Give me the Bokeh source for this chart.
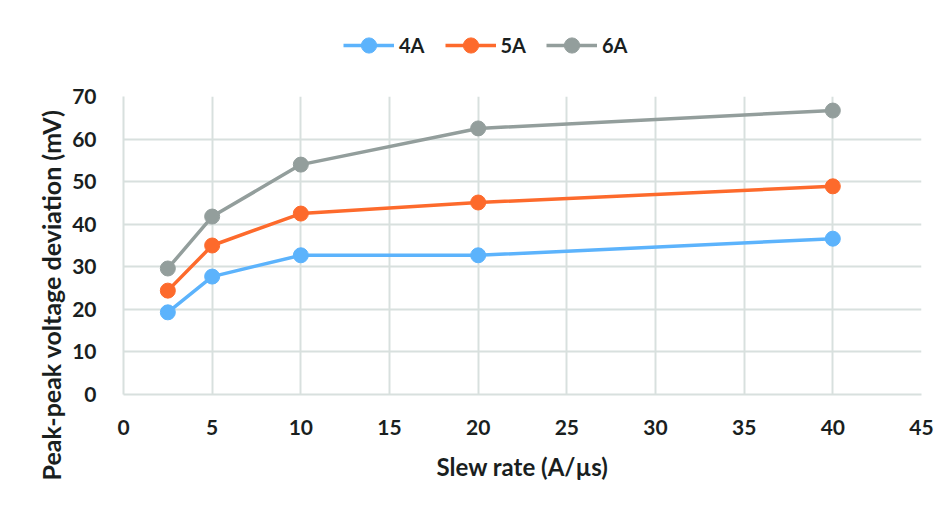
from bokeh.plotting import figure
from bokeh.models import Legend, LegendItem, FixedTicker, Title
from bokeh.layouts import column
from bokeh.embed import file_html
from bokeh.resources import INLINE

slew_rate = [2.5, 5, 10, 20, 40]
dev_4A = [19.3, 27.7, 32.7, 32.7, 36.6]
dev_5A = [24.4, 35.0, 42.5, 45.1, 48.9]
dev_6A = [29.6, 41.8, 54.0, 62.5, 66.7]
series_names = ["4A", "5A", "6A"]
series_colors = ["#5cb3fc", "#fd6a2c", "#939e9c"]
x_ticks = [0, 5, 10, 15, 20, 25, 30, 35, 40, 45]
y_ticks = [0, 10, 20, 30, 40, 50, 60, 70]
x_title = "Slew rate (A/µs)"
y_title = "Peak-peak voltage deviation (mV)"

FONT = "Lato"
TXT = "#1a1f1f"
GRID = "#d8e0de"
W = 944
LEG_H = 70

# legend strip (its frame is aligned with the main chart's frame by the column)
lg = figure(width=W, height=LEG_H, output_backend="svg", toolbar_location=None,
            x_range=(0, 1), y_range=(0, 1), min_border=0)
lg.axis.visible = False
lg.grid.visible = False
lg.outline_line_color = None
items = []
for name, ys, col in zip(series_names, [dev_4A, dev_5A, dev_6A], series_colors):
    r1 = lg.line(slew_rate, ys, line_color=col, line_width=3.5, visible=False)
    r2 = lg.scatter(slew_rate, ys, size=15, fill_color=col, line_color=col, visible=False)
    items.append(LegendItem(label=name, renderers=[r1, r2]))
legend = Legend(items=items, orientation="horizontal", location=(220, 6))
legend.label_text_font = FONT
legend.label_text_font_style = "bold"
legend.label_text_font_size = "20px"
legend.label_text_color = TXT
legend.border_line_color = None
legend.background_fill_alpha = 0
legend.glyph_width = 51
legend.glyph_height = 38
legend.label_height = 38
legend.spacing = 20
legend.label_standoff = 5
legend.margin = 0
legend.padding = 0
lg.add_layout(legend)

# main chart
p = figure(width=W, height=503 - LEG_H, output_backend="svg", toolbar_location=None,
           x_range=(0, 45), y_range=(0, 70),
           min_border_left=123, min_border_right=23, min_border_top=96 - LEG_H,
           min_border_bottom=109)
p.outline_line_color = None
p.background_fill_color = "white"
p.border_fill_color = "white"

for name, ys, col in zip(series_names, [dev_4A, dev_5A, dev_6A], series_colors):
    p.line(slew_rate, ys, line_color=col, line_width=3.5)
    p.scatter(slew_rate, ys, size=15, fill_color=col, line_color=col)

for ax in (p.xaxis, p.yaxis):
    ax.major_label_text_font = FONT
    ax.major_label_text_font_style = "bold"
    ax.major_label_text_font_size = "21px"
    ax.major_label_text_color = TXT
    ax.axis_label_text_font = FONT
    ax.axis_label_text_font_style = "bold"
    ax.axis_label_text_color = TXT
    ax.axis_line_color = GRID
    ax.axis_line_width = 2
    ax.major_tick_line_color = None
    ax.minor_tick_line_color = None

p.xaxis.ticker = FixedTicker(ticks=x_ticks)
p.yaxis.ticker = FixedTicker(ticks=y_ticks)
p.xaxis.axis_label = x_title
p.xaxis.axis_label_text_font_size = "24px"
p.xaxis.major_label_standoff = 19
p.yaxis.major_label_standoff = 21
p.xaxis.axis_label_standoff = 14

ytitle = Title(text=y_title, align="left", offset=-86, standoff=8,
               text_font=FONT, text_font_style="bold", text_font_size="25px",
               text_color=TXT)
p.add_layout(ytitle, "left")

p.xgrid.grid_line_color = GRID
p.ygrid.grid_line_color = GRID
p.xgrid.grid_line_width = 2
p.ygrid.grid_line_width = 2
p.xgrid.ticker = FixedTicker(ticks=x_ticks)
p.ygrid.ticker = FixedTicker(ticks=y_ticks)

layout = column(lg, p, spacing=0)
open("out.html", "w").write(file_html(layout, INLINE))
